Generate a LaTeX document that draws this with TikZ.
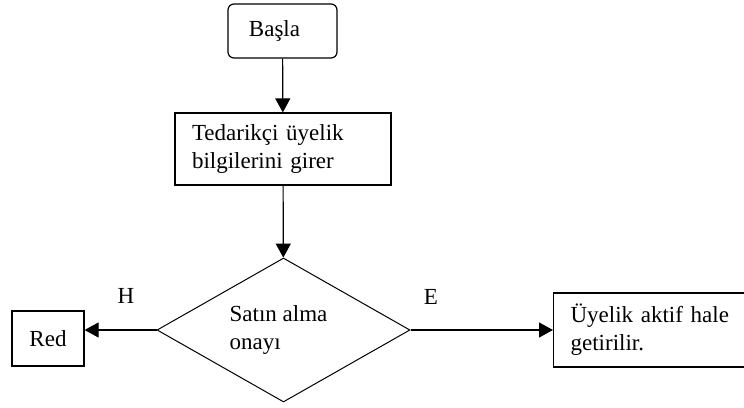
\documentclass[tikz,border=0pt]{standalone}
\usepackage{fontspec}
\setmainfont{Liberation Serif}
\usetikzlibrary{shapes.geometric,arrows.meta}

\tikzset{
  box/.style={draw, line width=0.6pt, align=left, inner xsep=8.5pt, inner ysep=0pt},
  flow/.style={line width=0.6pt, -{Triangle[length=7pt,width=7.5pt]}},
  branch/.style={font=\fontsize{11.5}{14}\selectfont}
}

\begin{document}
\begin{tikzpicture}[x=0.5pt, y=-0.5pt, font=\fontsize{11.5}{14}\selectfont]

  \useasboundingbox (0,0) rectangle (744,407);
  \clip (0,0) rectangle (744,407);

  % Start
  \node[draw, line width=0.6pt, rounded corners=3pt, minimum width=54.5pt, minimum height=27pt, inner sep=0pt] (start) at (282.5,31) {Başla\hspace*{8pt}};

  % Input step
  \node[box, text width=91pt, minimum height=36pt] (input) at (283,149) {Tedarikçi üyelik\\bilgilerini girer};

  % Decision
  \node[draw, diamond, line width=0.5pt, minimum width=126.5pt, minimum height=72pt, inner sep=0pt, align=left] (check) at (283.5,330) {\hspace*{-5pt}Satın alma\\\hspace*{-5pt}onayı};

  % Outcomes
  \node[draw, line width=0.6pt, minimum width=36pt, minimum height=27.5pt, inner sep=0pt] (reject) at (48,338.5) {Red};
  \node[box, text width=100pt, minimum height=37pt, anchor=west] (accept) at (553,330) {Üyelik aktif hale\\getirilir.};

  % Arrows
  \draw[flow] (start) -- (input);
  \draw[flow] (input) -- (check);
  \draw[flow] (check.west) -- (check.west -| reject.east);
  \draw[flow] (check.east) -- (accept);

  % Branch labels
  \node[branch] (no) at (126,296) {H};
  \node[branch] (yes) at (431,297) {E};

\end{tikzpicture}
\end{document}
